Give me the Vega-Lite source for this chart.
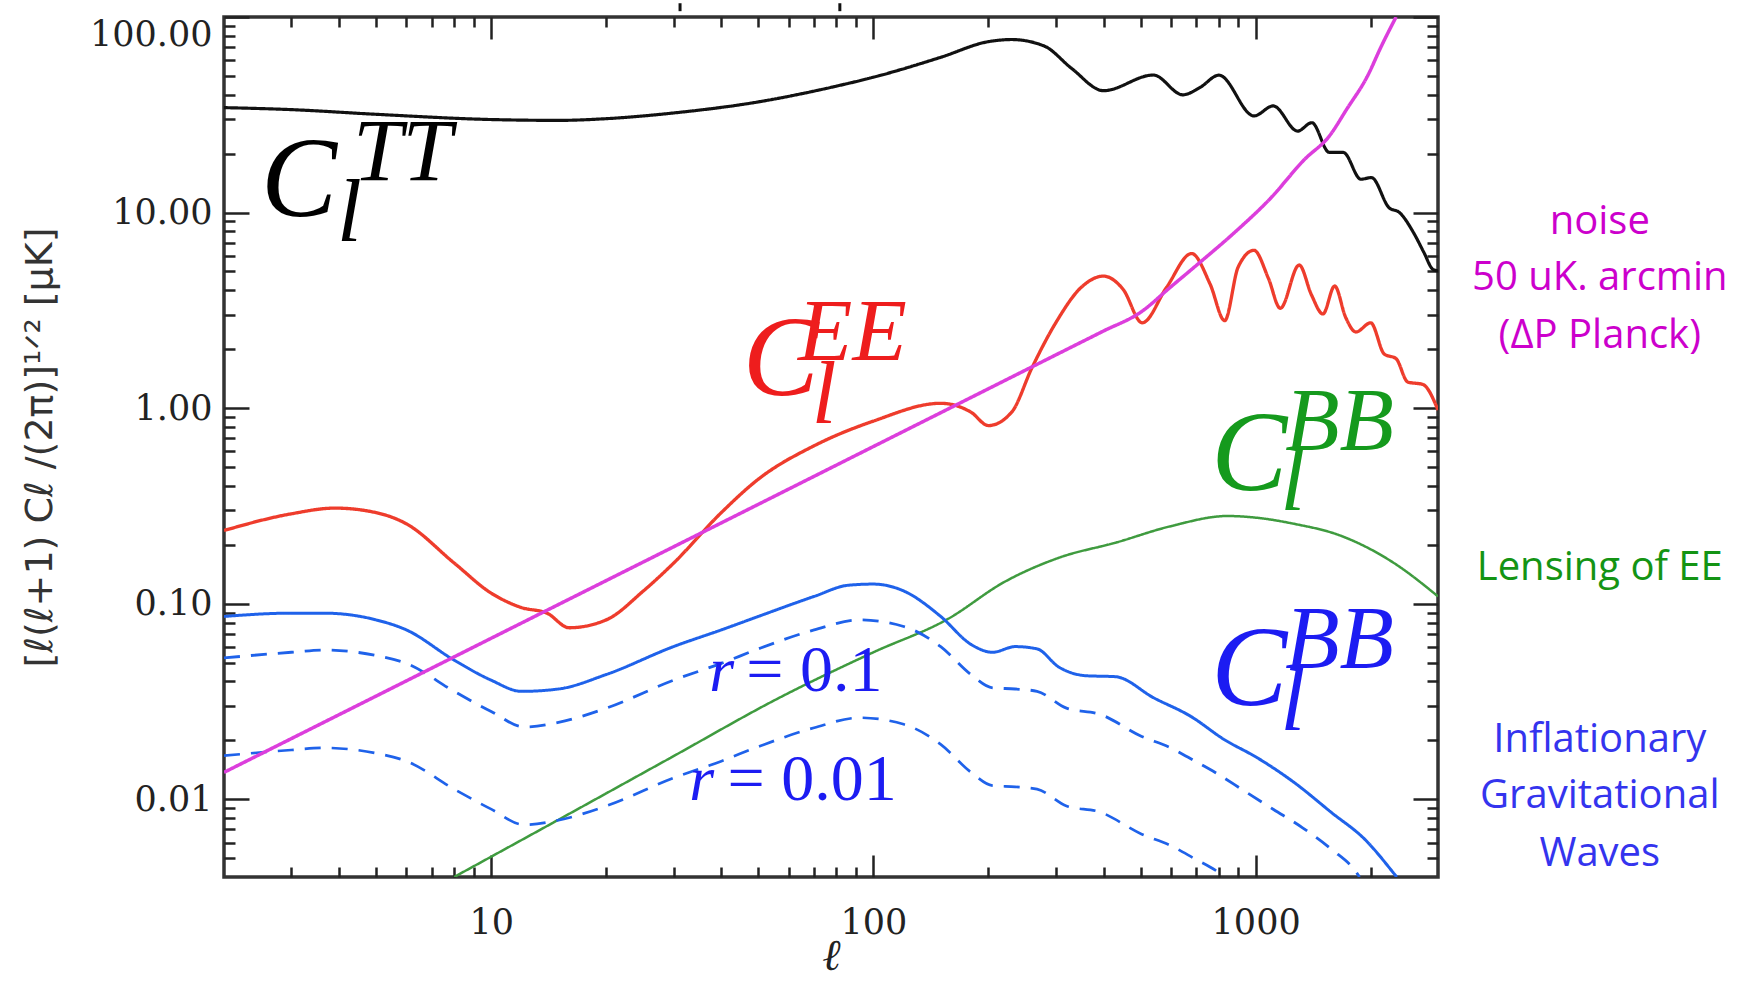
{
  "$schema": "https://vega.github.io/schema/vega-lite/v6.json",
  "width": 1214,
  "height": 860,
  "autosize": "none",
  "padding": {"left": 224, "top": 17, "right": 312, "bottom": 104},
  "background": "white",
  "config": {"view": {"stroke": "#333333", "strokeWidth": 3.5}},
  "datasets": {
    "curves": [
      {"s":"green","l":8,"v":0.004},{"s":"green","l":15,"v":0.00785},{"s":"green","l":29.3,"v":0.01618},{"s":"green","l":57.4,"v":0.0334},{"s":"green","l":100,"v":0.0564},{"s":"green","l":157,"v":0.0837},{"s":"green","l":220,"v":0.129},{"s":"green","l":308,"v":0.1725},{"s":"green","l":430,"v":0.205},{"s":"green","l":600,"v":0.249},{"s":"green","l":843,"v":0.2806},{"s":"green","l":1030,"v":0.2735},{"s":"green","l":1260,"v":0.256},{"s":"green","l":1650,"v":0.2244},{"s":"green","l":2300,"v":0.1614},{"s":"green","l":3000,"v":0.1089},
      {"s":"lo","l":2,"v":0.0167},{"s":"lo","l":3,"v":0.01784},{"s":"lo","l":3.65,"v":0.0183},{"s":"lo","l":5,"v":0.01717},{"s":"lo","l":6,"v":0.01565},{"s":"lo","l":8,"v":0.01126},{"s":"lo","l":10,"v":0.00889},{"s":"lo","l":12.2,"v":0.0074},{"s":"lo","l":15,"v":0.00781},{"s":"lo","l":20,"v":0.00923},{"s":"lo","l":30,"v":0.01284},{"s":"lo","l":40,"v":0.01565},{"s":"lo","l":50,"v":0.01856},{"s":"lo","l":70,"v":0.0232},{"s":"lo","l":92,"v":0.0261},{"s":"lo","l":120,"v":0.02416},{"s":"lo","l":150,"v":0.01907},{"s":"lo","l":180,"v":0.01373},{"s":"lo","l":205,"v":0.01173},{"s":"lo","l":235,"v":0.01157},{"s":"lo","l":268,"v":0.01126},{"s":"lo","l":320,"v":0.00923},{"s":"lo","l":391,"v":0.0086},{"s":"lo","l":502,"v":0.00664},{"s":"lo","l":598,"v":0.0058},{"s":"lo","l":694,"v":0.00495},{"s":"lo","l":786,"v":0.00432},{"s":"lo","l":830,"v":0.004},
      {"s":"up","l":2,"v":0.0528},{"s":"up","l":3,"v":0.0564},{"s":"up","l":3.65,"v":0.0579},{"s":"up","l":5,"v":0.0543},{"s":"up","l":6,"v":0.0495},{"s":"up","l":8,"v":0.0356},{"s":"up","l":10,"v":0.0281},{"s":"up","l":12.2,"v":0.0234},{"s":"up","l":15,"v":0.0247},{"s":"up","l":20,"v":0.0292},{"s":"up","l":30,"v":0.0406},{"s":"up","l":40,"v":0.0495},{"s":"up","l":50,"v":0.0587},{"s":"up","l":70,"v":0.0734},{"s":"up","l":92,"v":0.0826},{"s":"up","l":120,"v":0.0764},{"s":"up","l":150,"v":0.0603},{"s":"up","l":180,"v":0.0434},{"s":"up","l":205,"v":0.0371},{"s":"up","l":235,"v":0.0366},{"s":"up","l":268,"v":0.0356},{"s":"up","l":320,"v":0.0292},{"s":"up","l":391,"v":0.0272},{"s":"up","l":502,"v":0.021},{"s":"up","l":598,"v":0.01834},{"s":"up","l":694,"v":0.01566},{"s":"up","l":786,"v":0.01366},{"s":"up","l":936,"v":0.01099},{"s":"up","l":1114,"v":0.00886},{"s":"up","l":1327,"v":0.00714},{"s":"up","l":1580,"v":0.00554},{"s":"up","l":1837,"v":0.00421},{"s":"up","l":1870,"v":0.004},
      {"s":"solid","l":2,"v":0.086},{"s":"solid","l":3,"v":0.0894},{"s":"solid","l":3.65,"v":0.0894},{"s":"solid","l":5,"v":0.0826},{"s":"solid","l":6,"v":0.0734},{"s":"solid","l":8,"v":0.0514},{"s":"solid","l":10,"v":0.0406},{"s":"solid","l":12,"v":0.0356},{"s":"solid","l":15,"v":0.0366},{"s":"solid","l":20,"v":0.0434},{"s":"solid","l":30,"v":0.0603},{"s":"solid","l":40,"v":0.0734},{"s":"solid","l":50,"v":0.086},{"s":"solid","l":70,"v":0.1089},{"s":"solid","l":86,"v":0.1242},{"s":"solid","l":100,"v":0.1259},{"s":"solid","l":120,"v":0.1161},{"s":"solid","l":150,"v":0.086},{"s":"solid","l":180,"v":0.0619},{"s":"solid","l":205,"v":0.0564},{"s":"solid","l":235,"v":0.0603},{"s":"solid","l":268,"v":0.0587},{"s":"solid","l":305,"v":0.0475},{"s":"solid","l":360,"v":0.0428},{"s":"solid","l":430,"v":0.0423},{"s":"solid","l":541,"v":0.033},{"s":"solid","l":677,"v":0.0265},{"s":"solid","l":827,"v":0.0202},{"s":"solid","l":1009,"v":0.0163},{"s":"solid","l":1263,"v":0.01215},{"s":"solid","l":1581,"v":0.00853},{"s":"solid","l":1931,"v":0.00623},{"s":"solid","l":2328,"v":0.00405},{"s":"solid","l":2340,"v":0.004},
      {"s":"TT","l":2,"v":34.4},{"s":"TT","l":3,"v":33.6},{"s":"TT","l":5,"v":31.8},{"s":"TT","l":10,"v":29.9},{"s":"TT","l":15,"v":29.6},{"s":"TT","l":20,"v":30.2},{"s":"TT","l":30,"v":32.3},{"s":"TT","l":50,"v":36.8},{"s":"TT","l":80,"v":44.3},{"s":"TT","l":100,"v":49.2},{"s":"TT","l":150,"v":62.2},{"s":"TT","l":200,"v":74.8},{"s":"TT","l":230,"v":76.7},{"s":"TT","l":280,"v":71},{"s":"TT","l":330,"v":54.6},{"s":"TT","l":400,"v":42},{"s":"TT","l":540,"v":50.5},{"s":"TT","l":645,"v":40},{"s":"TT","l":714,"v":43.5},{"s":"TT","l":802,"v":50.4},{"s":"TT","l":990,"v":31.2},{"s":"TT","l":1112,"v":35.1},{"s":"TT","l":1288,"v":26.1},{"s":"TT","l":1403,"v":28.8},{"s":"TT","l":1559,"v":20.3},{"s":"TT","l":1696,"v":20.3},{"s":"TT","l":1886,"v":14.8},{"s":"TT","l":2009,"v":15.1},{"s":"TT","l":2233,"v":10.6},{"s":"TT","l":2379,"v":10},{"s":"TT","l":2587,"v":7.91},{"s":"TT","l":2757,"v":6.24},{"s":"TT","l":2907,"v":5.13},{"s":"TT","l":3000,"v":5.03},
      {"s":"EE","l":2,"v":0.2366},{"s":"EE","l":3,"v":0.288},{"s":"EE","l":3.9,"v":0.308},{"s":"EE","l":5,"v":0.292},{"s":"EE","l":6,"v":0.256},{"s":"EE","l":8,"v":0.1614},{"s":"EE","l":10,"v":0.1132},{"s":"EE","l":12,"v":0.0955},{"s":"EE","l":14,"v":0.0894},{"s":"EE","l":16,"v":0.0753},{"s":"EE","l":20,"v":0.0826},{"s":"EE","l":25,"v":0.116},{"s":"EE","l":30,"v":0.161},{"s":"EE","l":40,"v":0.292},{"s":"EE","l":50,"v":0.433},{"s":"EE","l":70,"v":0.642},{"s":"EE","l":100,"v":0.858},{"s":"EE","l":150,"v":1.058},{"s":"EE","l":180,"v":0.953},{"s":"EE","l":200,"v":0.814},{"s":"EE","l":230,"v":0.953},{"s":"EE","l":260,"v":1.61},{"s":"EE","l":300,"v":2.73},{"s":"EE","l":350,"v":4.15},{"s":"EE","l":400,"v":4.73},{"s":"EE","l":450,"v":4.05},{"s":"EE","l":505,"v":2.73},{"s":"EE","l":585,"v":4.15},{"s":"EE","l":680,"v":6.17},{"s":"EE","l":760,"v":4.31},{"s":"EE","l":830,"v":2.8},{"s":"EE","l":900,"v":5.26},{"s":"EE","l":990,"v":6.41},{"s":"EE","l":1080,"v":4.61},{"s":"EE","l":1160,"v":3.24},{"s":"EE","l":1300,"v":5.39},{"s":"EE","l":1400,"v":3.79},{"s":"EE","l":1500,"v":3.03},{"s":"EE","l":1610,"v":4.21},{"s":"EE","l":1720,"v":2.91},{"s":"EE","l":1830,"v":2.45},{"s":"EE","l":2000,"v":2.73},{"s":"EE","l":2170,"v":1.89},{"s":"EE","l":2330,"v":1.79},{"s":"EE","l":2500,"v":1.36},{"s":"EE","l":2740,"v":1.32},{"s":"EE","l":3000,"v":0.977},
      {"s":"noise","l":2,"v":0.01371},{"s":"noise","l":5,"v":0.03367},{"s":"noise","l":10,"v":0.0665},{"s":"noise","l":20,"v":0.1312},{"s":"noise","l":50,"v":0.322},{"s":"noise","l":100,"v":0.636},{"s":"noise","l":200,"v":1.256},{"s":"noise","l":300,"v":1.87},{"s":"noise","l":400,"v":2.479},{"s":"noise","l":500,"v":3.09},{"s":"noise","l":600,"v":4.17},{"s":"noise","l":714,"v":5.55},{"s":"noise","l":881,"v":7.91},{"s":"noise","l":1088,"v":11.7},{"s":"noise","l":1343,"v":18.7},{"s":"noise","l":1561,"v":24.7},{"s":"noise","l":1730,"v":33.7},{"s":"noise","l":1963,"v":50},{"s":"noise","l":2134,"v":71.1},{"s":"noise","l":2330,"v":100}
    ],
    "italic": [
      {"t":"C","l":2.5,"v":9.57,"k":"C","g":"TT"},
      {"t":"TT","l":4.35,"v":14.6,"k":"s","g":"TT"},
      {"t":"l","l":3.95,"v":7.13,"k":"s","g":"TT"},
      {"t":"C","l":45.5,"v":1.163,"k":"C","g":"EE"},
      {"t":"EE","l":63.5,"v":1.76,"k":"s","g":"EE"},
      {"t":"l","l":69,"v":0.836,"k":"s","g":"EE"},
      {"t":"C","l":765,"v":0.38,"k":"C","g":"BBg"},
      {"t":"BB","l":1195,"v":0.62,"k":"s","g":"BBg"},
      {"t":"l","l":1161,"v":0.3,"k":"s","g":"BBg"},
      {"t":"C","l":765,"v":0.0302,"k":"C","g":"BBb"},
      {"t":"BB","l":1195,"v":0.0475,"k":"s","g":"BBb"},
      {"t":"l","l":1161,"v":0.0225,"k":"s","g":"BBb"},
      {"t":"r","l":37.2,"v":0.0356,"k":"r","g":"BBb"},
      {"t":"r","l":33,"v":0.00986,"k":"r","g":"BBb"}
    ],
    "roman": [
      {"t":"=  0.1","l":46.5,"v":0.0356},
      {"t":"=  0.01","l":41.5,"v":0.00986}
    ],
    "side": [
      {"t":"noise","l":7950,"v":8.92,"g":"noise"},
      {"t":"50 uK. arcmin","l":7950,"v":4.61,"g":"noise"},
      {"t":"(ΔP Planck)","l":7950,"v":2.33,"g":"noise"},
      {"t":"Lensing of EE","l":7950,"v":0.152,"g":"lens"},
      {"t":"Inflationary","l":7950,"v":0.02,"g":"igw"},
      {"t":"Gravitational","l":7950,"v":0.01033,"g":"igw"},
      {"t":"Waves","l":7950,"v":0.00522,"g":"igw"}
    ],
    "marks": [
      {"l":31.2,"v":117.6,"v2":107.1},
      {"l":81.7,"v":117.6,"v2":107.1}
    ]
  },
  "layer": [
    {
      "data": {"name": "curves"},
      "mark": {"type": "line", "clip": true, "interpolate": "monotone"},
      "encoding": {
        "x": {"field": "l", "type": "quantitative",
          "scale": {"type": "log", "domain": [2, 3000], "nice": false},
          "axis": {
            "orient": "bottom",
            "values": [3,4,5,6,7,8,9,10,20,30,40,50,60,70,80,90,100,200,300,400,500,600,700,800,900,1000,2000],
            "labelExpr": "datum.value==10?'10':datum.value==100?'100':datum.value==1000?'1000':''",
            "tickSize": {"condition": {"test": "datum.value==10||datum.value==100||datum.value==1000", "value": -22}, "value": -10},
            "tickColor": "#222222", "tickWidth": 2.5,
            "domain": false, "grid": false,
            "labelFont": "DejaVu Serif", "labelFontSize": 35, "labelColor": "#222222", "labelPadding": 50,
            "labelOverlap": false, "labelFlush": false,
            "title": "ℓ", "titleFont": "DejaVu Serif", "titleFontStyle": "italic", "titleFontWeight": "normal",
            "titleFontSize": 44, "titleColor": "#222222", "titlePadding": -18
          }
        },
        "y": {"field": "v", "type": "quantitative",
          "scale": {"type": "log", "domain": [0.004, 100], "nice": false},
          "axis": {
            "orient": "left",
            "values": [0.005,0.006,0.007,0.008,0.009,0.01,0.02,0.03,0.04,0.05,0.06,0.07,0.08,0.09,0.1,0.2,0.3,0.4,0.5,0.6,0.7,0.8,0.9,1,2,3,4,5,6,7,8,9,10,20,30,40,50,60,70,80,90,100],
            "labelExpr": "indexof([0.01,0.1,1,10,100],datum.value)>=0 ? format(datum.value,'.2f') : ''",
            "tickSize": {"condition": {"test": "indexof([0.01,0.1,1,10,100],datum.value)>=0", "value": -25}, "value": -11},
            "tickColor": "#222222", "tickWidth": 2.5,
            "domain": false, "grid": false,
            "labelFont": "DejaVu Serif", "labelFontSize": 35, "labelColor": "#222222", "labelPadding": 37,
            "labelOverlap": false, "labelFlush": true,
            "title": "[ℓ(ℓ+1)  Cℓ /(2π)]¹ᐟ² [μK]", "titleFont": "DejaVu Sans", "titleFontWeight": "normal",
            "titleFontSize": 38, "titleColor": "#333333", "titlePadding": 30
          }
        },
        "color": {"field": "s", "type": "nominal", "legend": null,
          "scale": {"domain": ["green","lo","up","solid","TT","EE","noise"],
                    "range": ["#3f9b3f","#1f62ea","#1f62ea","#1f62ea","#111111","#ee3c2c","#dc3edc"]}},
        "strokeWidth": {"field": "s", "type": "nominal", "legend": null,
          "scale": {"domain": ["green","lo","up","solid","TT","EE","noise"],
                    "range": [2.5,3.5,3.5,3.5,3,3,5]}},
        "strokeDash": {"field": "s", "type": "nominal", "legend": null,
          "scale": {"domain": ["green","lo","up","solid","TT","EE","noise"],
                    "range": [[1,0],[16,11],[16,11],[1,0],[1,0],[1,0],[1,0]]}}
      }
    },
    {
      "data": {"name": "marks"},
      "mark": {"type": "rule", "color": "#111111", "strokeWidth": 3},
      "encoding": {
        "x": {"field": "l", "type": "quantitative",
          "scale": {"type": "log", "domain": [2, 3000], "nice": false},
          "axis": {
            "orient": "top",
            "values": [3,4,5,6,7,8,9,10,20,30,40,50,60,70,80,90,100,200,300,400,500,600,700,800,900,1000,2000],
            "labels": false, "title": null, "domain": false, "grid": false,
            "tickSize": {"condition": {"test": "datum.value==10||datum.value==100||datum.value==1000", "value": -22}, "value": -10},
            "tickColor": "#222222", "tickWidth": 2.5
          }
        },
        "y": {"field": "v", "type": "quantitative",
          "scale": {"type": "log", "domain": [0.004, 100], "nice": false},
          "axis": {
            "orient": "right",
            "values": [0.005,0.006,0.007,0.008,0.009,0.01,0.02,0.03,0.04,0.05,0.06,0.07,0.08,0.09,0.1,0.2,0.3,0.4,0.5,0.6,0.7,0.8,0.9,1,2,3,4,5,6,7,8,9,10,20,30,40,50,60,70,80,90,100],
            "labels": false, "title": null, "domain": false, "grid": false,
            "tickSize": {"condition": {"test": "indexof([0.01,0.1,1,10,100],datum.value)>=0", "value": -25}, "value": -11},
            "tickColor": "#222222", "tickWidth": 2.5
          }
        },
        "y2": {"field": "v2"}
      }
    },
    {
      "data": {"name": "italic"},
      "mark": {"type": "text", "font": "Liberation Serif", "fontStyle": "italic", "align": "left", "baseline": "alphabetic"},
      "encoding": {
        "x": {"field": "l", "type": "quantitative", "scale": {"type": "log", "domain": [2, 3000], "nice": false}, "axis": null},
        "y": {"field": "v", "type": "quantitative", "scale": {"type": "log", "domain": [0.004, 100], "nice": false}, "axis": null},
        "text": {"field": "t"},
        "size": {"field": "k", "type": "nominal", "legend": null, "scale": {"domain": ["C","s","r"], "range": [114,64,66]}},
        "color": {"field": "g", "type": "nominal", "legend": null,
          "scale": {"domain": ["TT","EE","BBg","BBb"], "range": ["#000000","#ee1d1d","#159a1d","#1c1cf2"]}}
      }
    },
    {
      "data": {"name": "roman"},
      "mark": {"type": "text", "font": "Liberation Serif", "fontSize": 66, "color": "#1c1cf2", "align": "left", "baseline": "alphabetic"},
      "encoding": {
        "x": {"field": "l", "type": "quantitative", "scale": {"type": "log", "domain": [2, 3000], "nice": false}, "axis": null},
        "y": {"field": "v", "type": "quantitative", "scale": {"type": "log", "domain": [0.004, 100], "nice": false}, "axis": null},
        "text": {"field": "t"}
      }
    },
    {
      "data": {"name": "side"},
      "mark": {"type": "text", "font": "Open Sans", "fontSize": 40, "align": "center", "baseline": "middle"},
      "encoding": {
        "x": {"field": "l", "type": "quantitative", "scale": {"type": "log", "domain": [2, 3000], "nice": false}, "axis": null},
        "y": {"field": "v", "type": "quantitative", "scale": {"type": "log", "domain": [0.004, 100], "nice": false}, "axis": null},
        "text": {"field": "t"},
        "color": {"field": "g", "type": "nominal", "legend": null,
          "scale": {"domain": ["noise","lens","igw"], "range": ["#cc00cc","#149414","#3434ee"]}}
      }
    }
  ],
  "resolve": {
    "axis": {"x": "independent", "y": "independent"},
    "scale": {"color": "independent", "size": "independent"}
  }
}
